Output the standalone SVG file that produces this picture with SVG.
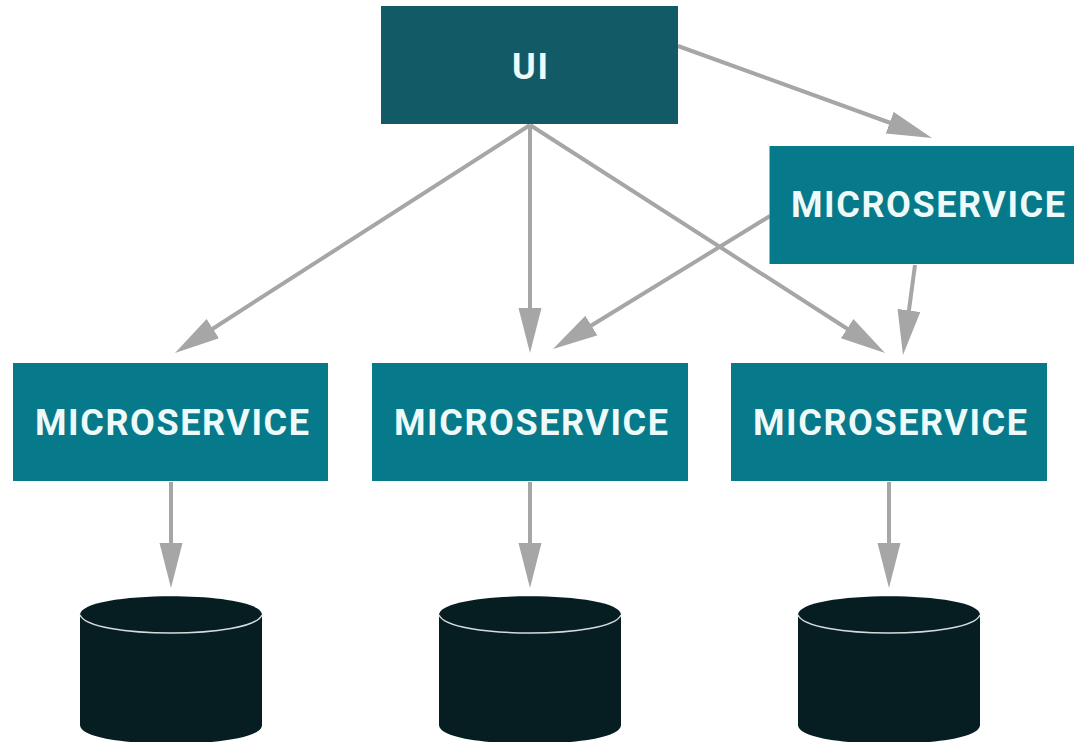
<svg xmlns="http://www.w3.org/2000/svg" width="1074" height="742" viewBox="0 0 1074 742">
<style>
.ms{fill:#067a8a}
.ui{fill:#125a66}
.t{font-family:Roboto,"Liberation Sans",Arial,sans-serif;font-weight:700;font-size:36px;fill:#eefafa;text-anchor:start}
.c{fill:none;stroke:#a6a6a6;stroke-width:4;marker-end:url(#a)}
.db{fill:#061d22}
.rim{fill:none;stroke:#d5dcdc;stroke-width:1.5}
</style>
<defs>
<marker id="a" markerUnits="userSpaceOnUse" markerWidth="47" markerHeight="26" refX="1" refY="12" orient="auto">
<path d="M0 0.5L45 12L0 23.5Z" fill="#a6a6a6"/>
</marker>
</defs>
<rect width="1074" height="742" fill="#fff"/>
<g id="connectors">
<path class="c" d="M678 46L890.6 123"/>
<path class="c" d="M530 125L212 329.2"/>
<path class="c" d="M530 125V309"/>
<path class="c" d="M530 125L848 329.2"/>
<path class="c" d="M770 216L590.5 326"/>
<path class="c" d="M915 265L908.8 311.4"/>
<path class="c" d="M171 482V544"/>
<path class="c" d="M530 482V544"/>
<path class="c" d="M889 482V544"/>
</g>
<g id="ui"><rect class="ui" x="381" y="6" width="297" height="118"/><text class="t" x="512" y="79" textLength="36" lengthAdjust="spacing">UI</text></g>
<g id="ms-top"><rect class="ms" x="769.5" y="146" width="304.5" height="118"/><text class="t" x="791" y="217" textLength="274" lengthAdjust="spacing">MICROSERVICE</text></g>
<g id="ms-1"><rect class="ms" x="13" y="363" width="315" height="118"/><text class="t" x="35" y="435" textLength="274" lengthAdjust="spacing">MICROSERVICE</text></g>
<g id="ms-2"><rect class="ms" x="372" y="363" width="316" height="118"/><text class="t" x="394" y="435" textLength="274" lengthAdjust="spacing">MICROSERVICE</text></g>
<g id="ms-3"><rect class="ms" x="731" y="363" width="316" height="118"/><text class="t" x="753" y="435" textLength="274" lengthAdjust="spacing">MICROSERVICE</text></g>
<g id="db-1"><path class="db" d="M80 615C80 590 262 590 262 615V725C262 750 80 750 80 725Z"/><path class="rim" d="M80 615C90 639 252 639 262 615"/></g>
<g id="db-2"><path class="db" d="M439 615C439 590 621 590 621 615V725C621 750 439 750 439 725Z"/><path class="rim" d="M439 615C449 639 611 639 621 615"/></g>
<g id="db-3"><path class="db" d="M798 615C798 590 980 590 980 615V725C980 750 798 750 798 725Z"/><path class="rim" d="M798 615C808 639 970 639 980 615"/></g>
</svg>
